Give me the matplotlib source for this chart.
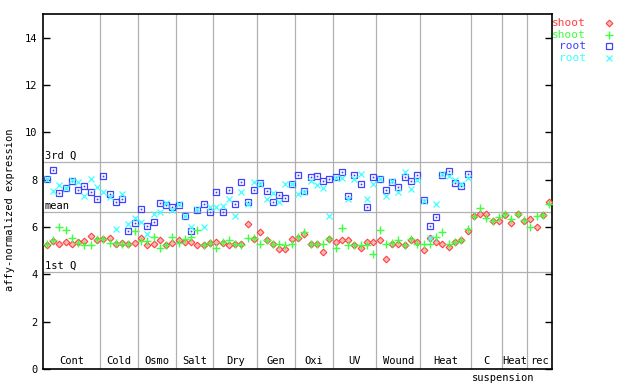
import numpy as np
import matplotlib
matplotlib.use("Agg")
import matplotlib.pyplot as plt
from matplotlib.lines import Line2D

# ---------------- data ----------------
groups = ["Cont", "Cold", "Osmo", "Salt", "Dry", "Gen", "Oxi", "UV",
          "Wound", "Heat", "C", "Heat", "rec"]
group_sizes = [9, 6, 6, 6, 7, 6, 6, 7, 7, 8, 5, 4, 4]

shoot_rep1 = [5.23, 5.40, 5.27, 5.36, 5.30, 5.36, 5.40, 5.61, 5.44,
              5.48, 5.55, 5.27, 5.33, 5.30, 5.31,
              5.55, 5.25, 5.30, 5.44, 5.26, 5.31,
              5.44, 5.35, 5.38, 5.24, 5.22, 5.33,
              5.36, 5.33, 5.24, 5.30, 5.27, 6.14, 5.50,
              5.78, 5.44, 5.27, 5.05, 5.07, 5.50,
              5.55, 5.72, 5.27, 5.27, 4.96, 5.50,
              5.36, 5.47, 5.44, 5.22, 5.13, 5.38, 5.38,
              5.47, 4.63, 5.27, 5.27, 5.24, 5.44, 5.36,
              5.02, 5.53, 5.36, 5.27, 5.16, 5.38, 5.47, 5.82,
              6.45, 6.57, 6.57, 6.24, 6.27,
              6.52, 6.17, 6.54, 6.27,
              6.35, 6.02, 6.50, 7.04]

shoot_rep2 = [5.30, 5.44, 6.00, 5.89, 5.55, 5.34, 5.26, 5.26, 5.50,
              5.48, 5.32, 5.32, 5.30, 5.30, 5.82,
              5.40, 5.40, 5.58, 5.13, 5.26, 5.58,
              5.33, 5.50, 5.58, 5.89, 5.24, 5.33,
              5.13, 5.38, 5.47, 5.27, 5.24, 5.55, 5.55,
              5.27, 5.44, 5.27, 5.27, 5.22, 5.27,
              5.58, 5.80, 5.27, 5.27, 5.27, 5.50,
              5.13, 5.95, 5.24, 5.22, 5.24, 5.22, 4.88,
              5.86, 5.30, 5.33, 5.47, 5.22, 5.50, 5.27,
              5.30, 5.30, 5.58, 5.78, 5.27, 5.38, 5.47, 5.93,
              6.45, 6.82, 6.40, 6.24, 6.44,
              6.54, 6.34, 6.54, 6.28,
              5.98, 6.45, 6.51, 6.96]

nan = float("nan")
root_rep1 = [8.03, 8.42, 7.45, 7.66, 7.94, 7.58, 7.75, 7.49, 7.20,
             8.17, 7.41, 7.07, 7.20, 5.83, 6.17,
             6.77, 6.06, 6.23, 7.03, 6.95, 6.86,
             6.91, 6.45, 5.81, 6.71, 6.96, 6.62,
             7.46, 6.62, 7.55, 6.96, 7.92, 7.07, 7.58,
             7.86, 7.54, 7.04, 7.37, 7.24, 7.83,
             8.21, 7.54, 8.12, 8.17, 7.96, 8.04,
             8.11, 8.33, 7.32, 8.18, 7.83, 6.86, 8.12,
             8.04, 7.58, 7.92, 7.70, 8.12, 7.96, 8.21,
             7.15, 6.06, 6.44, 8.21, 8.37, 7.87, 7.75, 8.25,
             nan, nan, nan, nan, nan,
             nan, nan, nan, nan,
             nan, nan, nan, nan]

root_rep2 = [8.02, 7.53, 7.77, 7.66, 7.97, 7.90, 7.32, 8.02, 7.68,
             7.50, 7.28, 5.90, 7.38, 6.14, 6.37,
             6.20, 5.72, 6.57, 6.62, 7.01, 6.71,
             6.99, 6.45, 6.00, 6.76, 5.98, 6.85,
             6.85, 6.90, 7.18, 6.45, 7.49, 6.96, 7.92,
             7.83, 7.18, 7.44, 7.07, 7.80, 7.83,
             7.41, 7.47, 7.94, 7.77, 7.66, 6.45,
             8.08, 8.08, 7.18, 8.03, 8.22, 7.17, 7.80,
             8.04, 7.32, 7.94, 7.47, 8.33, 7.62, 8.00,
             7.10, 5.55, 6.96, 8.22, 8.17, 7.97, 7.83, 8.08,
             nan, nan, nan, nan, nan,
             nan, nan, nan, nan,
             nan, nan, nan, nan]

ref_labels = ["3rd Q", "mean", "1st Q"]
ref_values = [8.73, 6.62, 4.09]

yticks = [0, 2, 4, 6, 8, 10, 12, 14]

series_names = ["shoot", "shoot", "root", "root"]
series_colors = ["#ff4040", "#40ff40", "#4040ff", "#40ffff"]

# ---------------- figure ----------------
FONT = "DejaVu Sans Mono"
FS = 7.5
fig = plt.figure(figsize=(6.4, 3.84), dpi=100)
ax = fig.add_axes([43 / 640, 15 / 384, 509 / 640, 355 / 384])

n = len(shoot_rep1)
x = np.arange(n)
ax.set_xlim(-0.6, n - 0.55)
ax.set_ylim(0, 15)

grid_c = "#b0b0b0"
bounds = np.cumsum(group_sizes)
for b in bounds[:-1]:
    ax.axvline(b - 0.5, color=grid_c, lw=0.9, zorder=1)
for lab, v in zip(ref_labels, ref_values):
    ax.axhline(v, color=grid_c, lw=0.9, zorder=1)
    ax.text(-0.3, v + 0.05, lab, ha="left", va="bottom", fontsize=FS,
            family=FONT, color="black", zorder=5)

starts = np.concatenate([[0], bounds[:-1]])
for g, s, sz in zip(groups, starts, group_sizes):
    ax.text(s + (sz - 1) / 2.0, 0.12, g, ha="center", va="bottom",
            fontsize=FS, family=FONT, color="black", zorder=5)
ax.text(bounds[10] - 0.3, -0.38, "suspension", ha="center", va="center",
        fontsize=FS, family=FONT, color="black", clip_on=False)

d_style = dict(marker="D", ms=3.4, mfc="#ffb8b8", mew=0.8)
p_style = dict(marker="+", ms=6.0, mew=1.0)
s_style = dict(marker="s", ms=4.0, mfc="none", mew=0.9)
x_style = dict(marker="x", ms=4.0, mew=0.9)

ax.plot(x, shoot_rep1, ls="none", mec=series_colors[0], zorder=3, **d_style)
ax.plot(x, shoot_rep2, ls="none", mec=series_colors[1], zorder=4, **p_style)
ax.plot(x, root_rep1, ls="none", mec=series_colors[2], zorder=3, **s_style)
ax.plot(x, root_rep1, ls="none", marker="s", ms=0.9, mfc=series_colors[2],
        mec=series_colors[2], mew=0.2, zorder=3)
ax.plot(x, root_rep2, ls="none", mec=series_colors[3], zorder=4, **x_style)

for sp in ax.spines.values():
    sp.set_color("black")
    sp.set_linewidth(1.2)
ax.set_xticks([])
ax.set_yticks(yticks)
ax.set_yticklabels([str(t) for t in yticks], fontsize=FS, family=FONT)
ax.tick_params(axis="y", direction="in", length=5, width=1.0,
               left=True, right=True, labelleft=True, labelright=False, pad=4)

fig.text(10 / 640, 1 - 210 / 384, "affy-normalized expression", rotation=90,
         ha="center", va="center", fontsize=FS, family=FONT)

legend_markers = [d_style, p_style, s_style, x_style]
for k, (name, col, mk) in enumerate(zip(series_names, series_colors, legend_markers)):
    yy = 1 - (23 + k * 11.7) / 384
    fig.text(586 / 640, yy, name, ha="right", va="center", fontsize=8,
             family=FONT, color=col)
    fig.add_artist(Line2D([609 / 640], [yy], transform=fig.transFigure,
                          ls="none", mec=col, **mk))

fig.savefig("out.png", dpi=100)
